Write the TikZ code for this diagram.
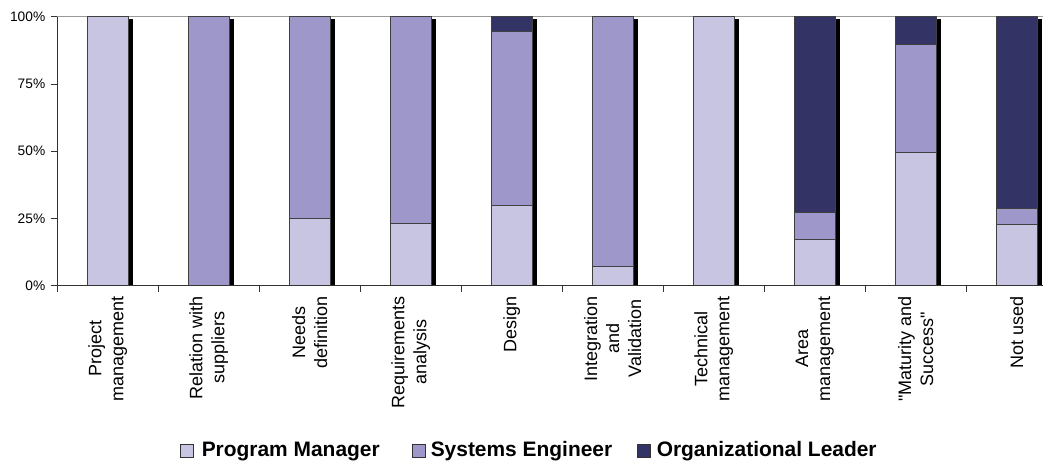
\documentclass[tikz,border=0pt]{standalone}
\usepackage{fontspec}
\newfontfamily\arialf{Liberation Sans}
\definecolor{pmc}{HTML}{C8C5E3}
\definecolor{sec}{HTML}{9E97C9}
\definecolor{olc}{HTML}{333366}
\begin{document}
\begin{tikzpicture}[x=0.75pt,y=-0.75pt,
  seg/.style={draw=black!75, line width=0.5pt},
  shadowbar/.style={fill=black},
  axisline/.style={draw=black!80, line width=0.6pt},
  gridtop/.style={draw=black!40, line width=0.7pt},
  lab/.style={font=\arialf\fontsize{13.5}{16.5}\selectfont, rotate=90, anchor=east, align=center, inner sep=0pt},
  ylab/.style={font=\arialf\fontsize{10.3}{12}\selectfont, anchor=east, inner sep=0pt},
  leg/.style={font=\arialf\fontsize{15.7}{18}\selectfont\bfseries, anchor=base west, inner sep=0pt},
  legbox/.style={draw=black!80, line width=0.5pt}]
\useasboundingbox (0,0) rectangle (1043,465);
% top line
\draw[gridtop] (57.3,16.7) -- (1043,16.7);
% bars
\foreach \i/\a/\b/\t in {0/100/100/{Project\\management},
                         1/0/100/{Relation with\\suppliers},
                         2/25/100/{Needs\\definition},
                         3/23.2/100/{Requirements\\analysis},
                         4/30/94.6/{Design},
                         5/7.1/100/{Integration\\and\\Validation},
                         6/100/100/{Technical\\management},
                         7/17.2/27.4/{Area\\management},
                         8/49.7/89.7/{"Maturity and\\Success"},
                         9/22.7/28.6/{Not used}} {
  \pgfmathsetmacro{\cx}{57.3+101*(\i+0.5)}
  \pgfmathsetmacro{\xl}{\cx-20.5}
  \pgfmathsetmacro{\xr}{\cx+20.5}
  \pgfmathsetmacro{\ya}{285.7-2.69*\a}
  \pgfmathsetmacro{\yb}{285.7-2.69*\b}
  \fill[shadowbar] (\xr,19) rectangle ({\xr+4.3},285.7);
  \ifdim\a pt>0pt
    \filldraw[seg, fill=pmc] (\xl,285.7) rectangle (\xr,\ya);
  \fi
  \ifdim\b pt>\a pt
    \filldraw[seg, fill=sec] (\xl,\ya) rectangle (\xr,\yb);
  \fi
  \ifdim\b pt<100pt
    \filldraw[seg, fill=olc] (\xl,\yb) rectangle (\xr,16.7);
  \fi
  \node[lab] (cat\i) at (\cx,296) {\t};
}
% axes
\draw[axisline] (57.3,16.7) -- (57.3,285.7);
\draw[axisline] (57.3,285.7) -- (1043,285.7);
\foreach \v/\s in {0/0\%,25/25\%,50/50\%,75/75\%,100/100\%} {
  \draw[axisline] (50.5,{285.7-2.69*\v}) -- (57.3,{285.7-2.69*\v});
  \node[ylab] (yl\v) at (45.5,{285.7-2.69*\v}) {\s};
}
\foreach \k in {0,...,9} {
  \draw[axisline] ({57.3+101*\k},285.7) -- ({57.3+101*\k},291.5);
}
% legend
\filldraw[legbox, fill=pmc] (180.5,444) rectangle (193.5,457);
\node[leg] (lpm) at (201.5,456.5) {Program Manager};
\filldraw[legbox, fill=sec] (412,444) rectangle (425,457);
\node[leg] (lse) at (430.5,456.5) {Systems Engineer};
\filldraw[legbox, fill=olc] (637.5,444) rectangle (650.5,457);
\node[leg] (lol) at (656.5,456.5) {Organizational Leader};
\end{tikzpicture}
\end{document}
